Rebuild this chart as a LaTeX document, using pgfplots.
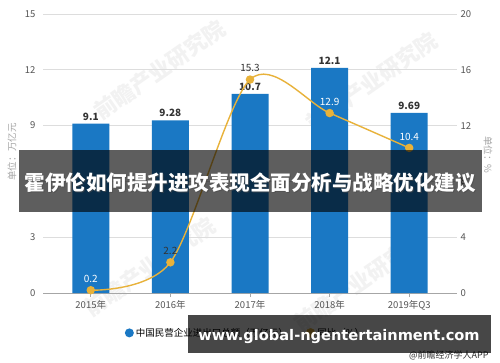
\documentclass[border=0pt]{standalone}
\usepackage{pgfplots}
\pgfplotsset{compat=1.18}
\usepackage{fontspec}
\setmainfont{Noto Sans CJK SC}
\newfontfamily\urlfont{DejaVu Sans}
\definecolor{barblue}{HTML}{1A78C4}
\definecolor{gold}{HTML}{E8B23A}
\definecolor{ticktxt}{HTML}{555555}
\definecolor{gridc}{HTML}{DDDDDD}
\definecolor{lbl}{HTML}{333333}
\begin{document}
\begin{tikzpicture}[x=1pt,y=1pt]
\useasboundingbox (0,0) rectangle (500,362);
\fill[white] (0,0) rectangle (500,362);
% faint watermarks
\node[rotate=35, text=gray!10, font=\fontsize{22}{22}\selectfont\bfseries] at (160,292) {前瞻产业研究院};
\node[rotate=35, text=gray!10, font=\fontsize{22}{22}\selectfont\bfseries] at (372,280) {前瞻产业研究院};
\node[rotate=35, text=gray!10, font=\fontsize{22}{22}\selectfont\bfseries] at (150,95) {前瞻产业研究院};
\node[rotate=35, text=gray!10, font=\fontsize{22}{22}\selectfont\bfseries] at (360,80) {前瞻产业研究院};
% axis titles
\node[rotate=90, text=gray!70, font=\fontsize{9.5}{10}\selectfont] at (12,210) {单位：万亿元};
\node[rotate=-90, text=gray!70, font=\fontsize{9.5}{10}\selectfont] at (488,207) {单位：\%};
\begin{axis}[
  at={(90.77pt,69pt)}, anchor=origin,
  width=414pt, height=279pt, scale only axis,
  xmin=-0.6, xmax=4.6, ymin=0, ymax=15,
  xtick={0,...,4}, xticklabels={2015年,2016年,2017年,2018年,2019年Q3},
  ytick={0,3,...,15},
  axis x line*=bottom, axis y line*=left,
  y axis line style={draw=none},
  x axis line style={draw=gray!70, line width=0.8pt, -},
  xtick style={draw=gray!70, line width=0.6pt},
  ytick style={draw=none},
  tick align=outside, major tick length=4pt,
  ymajorgrids, grid style={gridc, line width=0.8pt},
  tick label style={text=ticktxt, font=\fontsize{9.5}{10}\selectfont},
  /pgf/number format/assume math mode=true,
  ybar, bar width=37pt,
  nodes near coords,
  every node near coord/.append style={text=lbl, font=\fontsize{10}{10}\selectfont\bfseries},
  /pgf/number format/.cd, fixed, precision=2,
  /pgfplots/.cd,
  legend style={at={(0.19,-0.143)}, anchor=west, draw=none, fill=none,
    legend columns=2, font=\fontsize{9.5}{10}\selectfont,
    /tikz/every even column/.append style={column sep=16pt}},
  legend cell align=left,
]
\addplot[fill=barblue, draw=none, legend image code/.code={\fill[barblue] (0.3em,0) circle (4.5pt);}]
  coordinates {(0,9.1) (1,9.28) (2,10.7) (3,12.1) (4,9.69)};
\addlegendentry{中国民营企业进出口总额（万亿元）}
\addlegendimage{legend image code/.code={\fill[gold] (0.3em,0) circle (4.5pt);}}
\addlegendentry{同比（\%）}
\end{axis}
\begin{axis}[
  at={(90.77pt,69pt)}, anchor=origin,
  width=414pt, height=279pt, scale only axis,
  xmin=-0.6, xmax=4.6, ymin=0, ymax=20,
  ytick={0,4,...,20},
  axis y line*=right, axis x line=none,
  y axis line style={draw=none},
  ytick style={draw=none},
  tick label style={text=ticktxt, font=\fontsize{9.5}{10}\selectfont},
  /pgf/number format/assume math mode=true,
]
\addplot[gold, line width=1.4pt, smooth, tension=0.5, mark=*, mark size=3.5pt, mark options={fill=gold, draw=gold}]
  coordinates {(0,0.2) (1,2.2) (2,15.3) (3,12.9) (4,10.4)};
\node[text=white, font=\fontsize{10}{10}\selectfont, anchor=south] at ([yshift=4pt]axis cs:0,0.2) {0.2};
\node[text=lbl, font=\fontsize{10}{10}\selectfont, anchor=south] at ([yshift=4pt]axis cs:1,2.2) {2.2};
\node[text=lbl, font=\fontsize{10}{10}\selectfont, anchor=south] at ([yshift=4pt]axis cs:2,15.3) {15.3};
\node[text=white, font=\fontsize{10}{10}\selectfont, anchor=south] at ([yshift=4pt]axis cs:3,12.9) {12.9};
\node[text=white, font=\fontsize{10}{10}\selectfont, anchor=south] at ([yshift=4pt]axis cs:4,10.4) {10.4};
\end{axis}
% bottom-right credit
\node[anchor=east, text=lbl, font=\fontsize{9}{9}\selectfont] at (492,7) {@前瞻经济学人APP};
% overlay banner
\fill[black, opacity=0.63] (19,150) rectangle (482,212);
\node[text=black!70, opacity=0.6, font=\fontsize{20.5}{21}\selectfont\bfseries] at (251,178) {霍伊伦如何提升进攻表现全面分析与战略优化建议};
\node[text=white, font=\fontsize{20.5}{21}\selectfont\bfseries] at (250,179) {霍伊伦如何提升进攻表现全面分析与战略优化建议};
% url box
\fill[black, opacity=0.72] (188,9) rectangle (491,47);
\node[text=white, font=\urlfont\fontsize{14.6}{15}\selectfont\bfseries] at (339,25) {www.global-ngentertainment.com};
\end{tikzpicture}
\end{document}
